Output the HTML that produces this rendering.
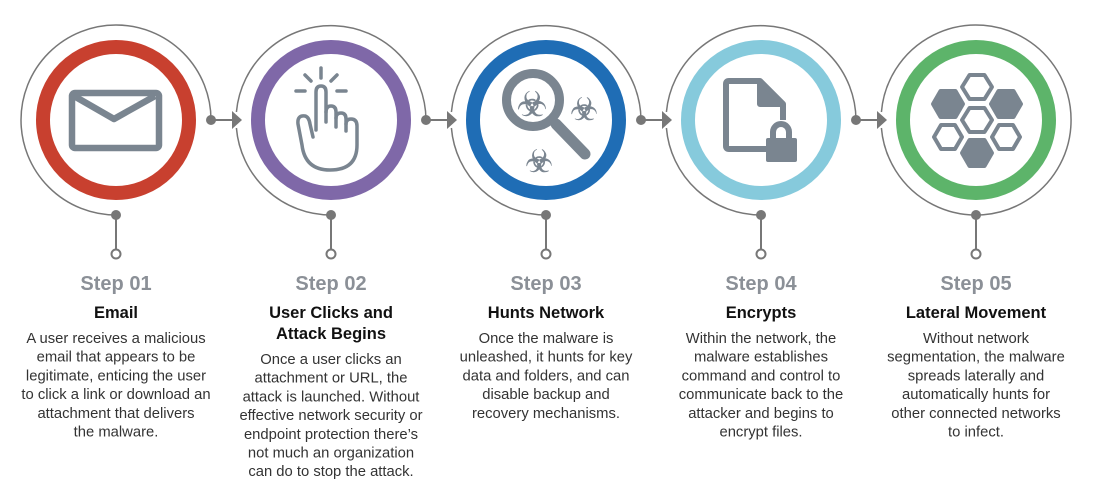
<!DOCTYPE html>
<html><head><meta charset="utf-8"><style>
html,body{margin:0;padding:0;background:#fff;}
svg{display:block;}
.st{font-family:"Liberation Sans",sans-serif;font-weight:bold;font-size:20px;fill:#8b9097;text-anchor:middle;}
.tt{font-family:"Liberation Sans",sans-serif;font-weight:bold;font-size:16.5px;fill:#111;text-anchor:middle;}
.bd{font-family:"Liberation Sans",sans-serif;font-size:14.8px;fill:#333;text-anchor:middle;}
.bio{font-family:"DejaVu Sans",sans-serif;fill:#7a8590;text-anchor:middle;}
</style></head><body>
<svg width="1106" height="494" viewBox="0 0 1106 494" xmlns="http://www.w3.org/2000/svg">
<g fill="none" stroke="#777" stroke-width="1.5">
<path d="M116,215 A95,95 0 1 1 211,120"/>
<path d="M426,120 A95,95 0 0 0 236.4,112 M236.4,128 A95,95 0 0 0 331,215"/>
<path d="M641,120 A95,95 0 0 0 451.4,112 M451.4,128 A95,95 0 0 0 546,215"/>
<path d="M856,120 A95,95 0 0 0 666.4,112 M666.4,128 A95,95 0 0 0 761,215"/>
<path d="M881.4,128 A95,95 0 1 0 881.4,112"/>
</g>
<g stroke="#777" stroke-width="2" fill="#777">
<line x1="211" y1="120" x2="233" y2="120"/><circle cx="211" cy="120" r="5" stroke="none"/><polygon points="232,111 242,120 232,129" stroke="none"/>
<line x1="426" y1="120" x2="448" y2="120"/><circle cx="426" cy="120" r="5" stroke="none"/><polygon points="447,111 457,120 447,129" stroke="none"/>
<line x1="641" y1="120" x2="663" y2="120"/><circle cx="641" cy="120" r="5" stroke="none"/><polygon points="662,111 672,120 662,129" stroke="none"/>
<line x1="856" y1="120" x2="878" y2="120"/><circle cx="856" cy="120" r="5" stroke="none"/><polygon points="877,111 887,120 877,129" stroke="none"/>
</g>
<g stroke="#777" stroke-width="2">
<line x1="116" y1="215" x2="116" y2="250"/><circle cx="116" cy="215" r="5" fill="#777" stroke="none"/><circle cx="116" cy="254" r="4.5" fill="#fff"/>
<line x1="331" y1="215" x2="331" y2="250"/><circle cx="331" cy="215" r="5" fill="#777" stroke="none"/><circle cx="331" cy="254" r="4.5" fill="#fff"/>
<line x1="546" y1="215" x2="546" y2="250"/><circle cx="546" cy="215" r="5" fill="#777" stroke="none"/><circle cx="546" cy="254" r="4.5" fill="#fff"/>
<line x1="761" y1="215" x2="761" y2="250"/><circle cx="761" cy="215" r="5" fill="#777" stroke="none"/><circle cx="761" cy="254" r="4.5" fill="#fff"/>
<line x1="976" y1="215" x2="976" y2="250"/><circle cx="976" cy="215" r="5" fill="#777" stroke="none"/><circle cx="976" cy="254" r="4.5" fill="#fff"/>
</g>
<g fill="none" stroke-width="14">
<circle cx="116" cy="120" r="73" stroke="#c8402f"/>
<circle cx="331" cy="120" r="73" stroke="#7f68a8"/>
<circle cx="546" cy="120" r="73" stroke="#1f6db5"/>
<circle cx="761" cy="120" r="73" stroke="#86cadc"/>
<circle cx="976" cy="120" r="73" stroke="#5db46a"/>
</g>
<g fill="none" stroke="#7a8590" stroke-width="6.5" stroke-linejoin="round">
<rect x="72" y="93" width="87" height="55" rx="3"/>
<polyline points="74,96 114,119 155,96"/>
</g>
<g fill="none" stroke="#7a8590" stroke-width="3.5" stroke-linecap="round" stroke-linejoin="round">
<path d="M316,130 L316,92 Q316,86 321,86 Q326,86 326,92 L326,112 Q326,106 331,106 Q336,106 336,112 L336,118 Q336,113 341,113 Q346,113 346,119 L346,124 Q346,119 351,119 Q357,119 357,126 L357,145 Q357,170 330,170 Q305,170 302,145 L298,124 Q297,115 305,116 Q309,117 310,124 L313,137"/>
<line x1="326" y1="112" x2="326" y2="122"/><line x1="336" y1="118" x2="336" y2="127"/><line x1="346" y1="124" x2="346" y2="131"/>
<line x1="321" y1="68" x2="321" y2="78"/><line x1="305" y1="75" x2="311" y2="81"/><line x1="337" y1="75" x2="331" y2="81"/>
<line x1="296" y1="91" x2="305" y2="91"/><line x1="337" y1="91" x2="346" y2="91"/>
</g>
<g stroke="#7a8590" fill="none">
<circle cx="533" cy="100" r="26.5" stroke-width="9"/>
<line x1="556" y1="124" x2="585" y2="154" stroke-width="11" stroke-linecap="round"/>
</g>
<g class="bio" stroke="#7a8590" stroke-width="0.6">
<text x="532" y="116" font-size="34">☣</text>
<text x="584" y="120" font-size="31">☣</text>
<text x="539" y="172" font-size="31">☣</text>
</g>
<g fill="none" stroke="#7a8590" stroke-width="6" stroke-linejoin="round">
<path d="M760,81 L729,81 Q726,81 726,84 L726,146 Q726,149 729,149 L766,149"/>
<path d="M783,104 L783,120"/>
<polygon points="760,81 783,104 760,104" fill="#7a8590"/>
<path d="M773,139 L773,132 A8,8 0 0 1 789,132 L789,139"/>
</g>
<rect x="766" y="138" width="31" height="24" rx="2" fill="#7a8590"/>
<g stroke="#7a8590" stroke-width="4" stroke-linejoin="round">
<polygon points="962,87 969.5,75 984.5,75 992,87 984.5,99 969.5,99" fill="#fff"/>
<polygon points="933,104 940.5,91 955.5,91 963,104 955.5,117 940.5,117" fill="#7a8590"/>
<polygon points="991,104 998.5,91 1013.5,91 1021,104 1013.5,117 998.5,117" fill="#7a8590"/>
<polygon points="962,120 969.5,108 984.5,108 992,120 984.5,132 969.5,132" fill="#fff"/>
<polygon points="934,137 941,125 955,125 962,137 955,149 941,149" fill="#fff"/>
<polygon points="992,137 999,125 1013,125 1020,137 1013,149 999,149" fill="#fff"/>
<polygon points="962,153 969.5,140 984.5,140 992,153 984.5,166 969.5,166" fill="#7a8590"/>
</g>
<text class="st" x="116" y="290">Step 01</text>
<text class="tt" x="116" y="318">Email</text>
<text class="bd"><tspan x="116" y="343">A user receives a malicious</tspan><tspan x="116" dy="18.7">email that appears to be</tspan><tspan x="116" dy="18.7">legitimate, enticing the user</tspan><tspan x="116" dy="18.7">to click a link or download an</tspan><tspan x="116" dy="18.7">attachment that delivers</tspan><tspan x="116" dy="18.7">the malware.</tspan></text>

<text class="st" x="331" y="290">Step 02</text>
<text class="tt"><tspan x="331" y="318">User Clicks and</tspan><tspan x="331" y="339">Attack Begins</tspan></text>
<text class="bd"><tspan x="331" y="364">Once a user clicks an</tspan><tspan x="331" dy="18.7">attachment or URL, the</tspan><tspan x="331" dy="18.7">attack is launched. Without</tspan><tspan x="331" dy="18.7">effective network security or</tspan><tspan x="331" dy="18.7">endpoint protection there’s</tspan><tspan x="331" dy="18.7">not much an organization</tspan><tspan x="331" dy="18.7">can do to stop the attack.</tspan></text>

<text class="st" x="546" y="290">Step 03</text>
<text class="tt" x="546" y="318">Hunts Network</text>
<text class="bd"><tspan x="546" y="343">Once the malware is</tspan><tspan x="546" dy="18.7">unleashed, it hunts for key</tspan><tspan x="546" dy="18.7">data and folders, and can</tspan><tspan x="546" dy="18.7">disable backup and</tspan><tspan x="546" dy="18.7">recovery mechanisms.</tspan></text>

<text class="st" x="761" y="290">Step 04</text>
<text class="tt" x="761" y="318">Encrypts</text>
<text class="bd"><tspan x="761" y="343">Within the network, the</tspan><tspan x="761" dy="18.7">malware establishes</tspan><tspan x="761" dy="18.7">command and control to</tspan><tspan x="761" dy="18.7">communicate back to the</tspan><tspan x="761" dy="18.7">attacker and begins to</tspan><tspan x="761" dy="18.7">encrypt files.</tspan></text>

<text class="st" x="976" y="290">Step 05</text>
<text class="tt" x="976" y="318">Lateral Movement</text>
<text class="bd"><tspan x="976" y="343">Without network</tspan><tspan x="976" dy="18.7">segmentation, the malware</tspan><tspan x="976" dy="18.7">spreads laterally and</tspan><tspan x="976" dy="18.7">automatically hunts for</tspan><tspan x="976" dy="18.7">other connected networks</tspan><tspan x="976" dy="18.7">to infect.</tspan></text>
</svg>
</body></html>
